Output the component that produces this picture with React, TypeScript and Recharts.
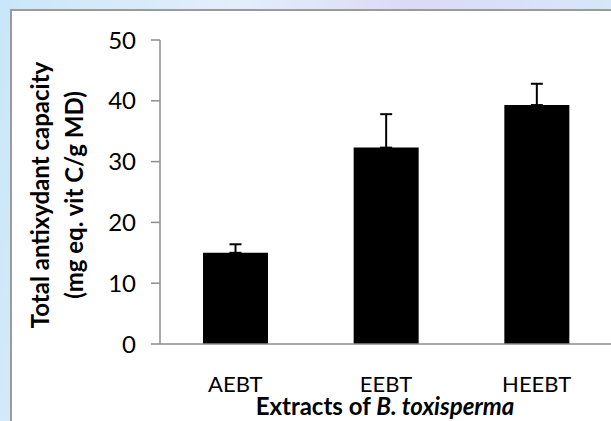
import React from 'react';
import { BarChart, Bar, XAxis, YAxis, ErrorBar } from 'recharts';

const categories = ['AEBT', 'EEBT', 'HEEBT'];
const values = [15.0, 32.3, 39.3];
const errors = [1.4, 5.5, 3.5];
const yTicks = [0, 10, 20, 30, 40, 50];

const data = categories.map((c, i) => ({ name: c, value: values[i], err: [0, errors[i]] }));

const FONT = 'Lato, "Open Sans", sans-serif';
const AXIS = '#8c8c8c';

function YLabel(props: any) {
  const vb = props.viewBox || { x: 0, y: 40, width: 60, height: 304 };
  const cy = vb.y + vb.height / 2 + 3;
  const x1 = 49;
  const x2 = 83;
  return (
    <g fontFamily={FONT} fontWeight="bold" fontSize={24} fill="#000">
      <text x={x1} y={cy} textAnchor="middle" transform={`rotate(-90 ${x1} ${cy})`}>
        Total antixydant capacity
      </text>
      <text x={x2} y={cy} textAnchor="middle" transform={`rotate(-90 ${x2} ${cy})`}>
        (mg eq. vit C/g MD)
      </text>
    </g>
  );
}

function XLabel(props: any) {
  const vb = props.viewBox || { x: 160, y: 344, width: 452, height: 30 };
  const cx = vb.x + vb.width / 2 - 1;
  const y = 415;
  return (
    <text x={cx} y={y} textAnchor="middle" fontFamily={FONT} fontWeight="bold" fontSize={24} fill="#000">
      Extracts of <tspan fontStyle="italic">B. toxisperma</tspan>
    </text>
  );
}

export default function App() {
  return (
    <div
      style={{
        position: 'absolute',
        left: 0,
        top: 0,
        width: 611,
        height: 421,
        overflow: 'hidden',
        background: 'linear-gradient(100deg, #c9e7fa 0%, #e4eefb 35%, #dcdaf6 60%, #d4ecfb 100%)',
      }}
    >
      <div
        style={{
          position: 'absolute',
          left: 10,
          top: 9,
          width: 640,
          height: 440,
          border: '2px solid #9b9b9b',
          background: '#ffffff',
        }}
      />
      <div style={{ position: 'absolute', left: 0, top: 0 }}>
        <BarChart
          width={640}
          height={421}
          data={data}
          margin={{ top: 40, right: 28, bottom: 47, left: 100 }}
          barCategoryGap={0}
        >
          <XAxis
            dataKey="name"
            height={30}
            tickLine={false}
            tickSize={0}
            tickMargin={32}
            axisLine={{ stroke: AXIS, strokeWidth: 1.5 }}
            tick={{ fill: '#000', fontSize: 22, fontFamily: FONT }}
            label={<XLabel />}
            interval={0}
          />
          <YAxis
            width={60}
            domain={[0, 50]}
            ticks={yTicks}
            tickSize={9}
            tickMargin={15}
            axisLine={{ stroke: AXIS, strokeWidth: 1.5 }}
            tickLine={{ stroke: AXIS, strokeWidth: 1.5 }}
            tick={{ fill: '#000', fontSize: 24, fontFamily: FONT }}
            label={<YLabel />}
          />
          <Bar dataKey="value" fill="#000" barSize={65} isAnimationActive={false}>
            <ErrorBar dataKey="err" width={6} stroke="#000" strokeWidth={2} isAnimationActive={false} />
          </Bar>
        </BarChart>
      </div>
    </div>
  );
}
